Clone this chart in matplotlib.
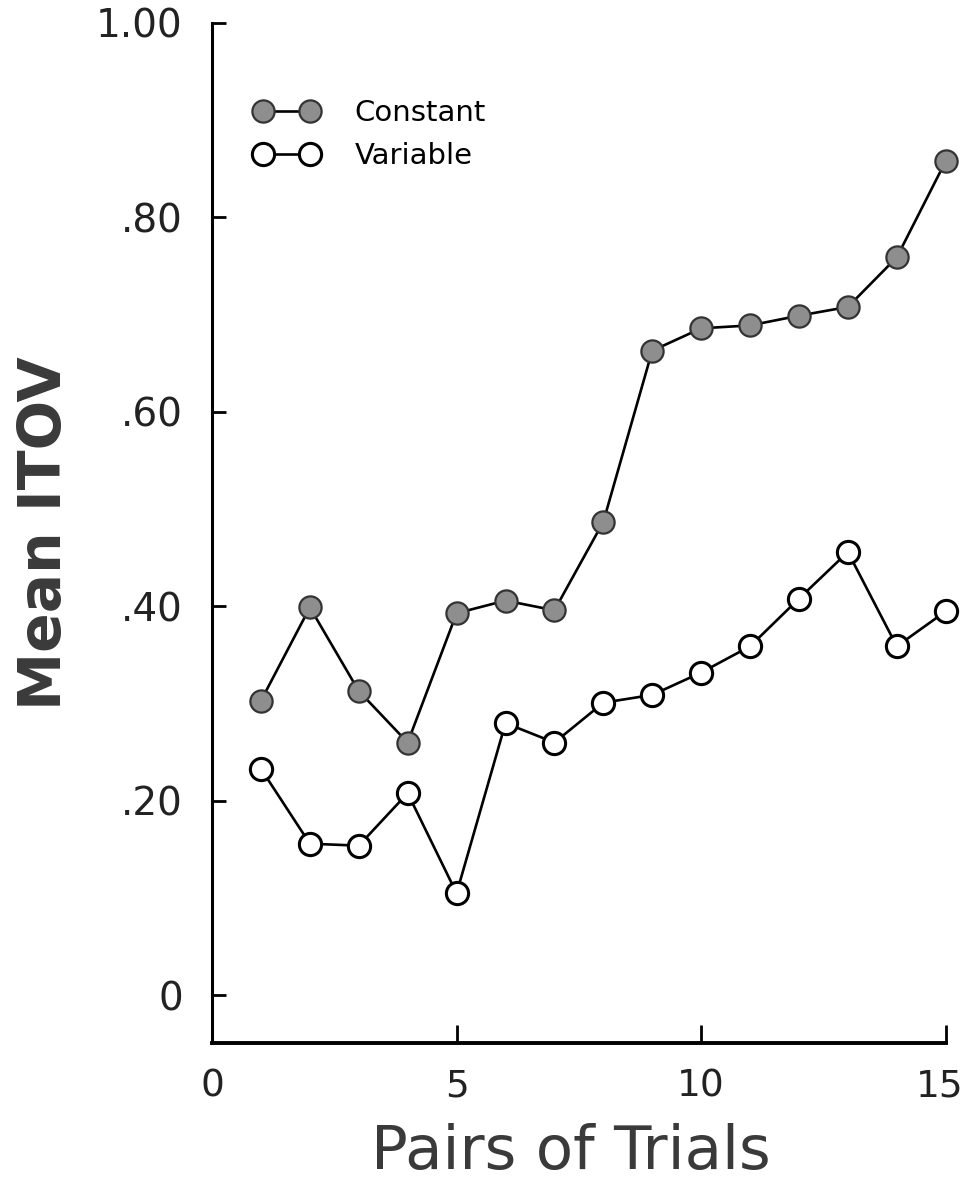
import matplotlib
matplotlib.use("Agg")
from matplotlib import pyplot as plt
from matplotlib import transforms

# data
pairs = list(range(1, 16))
constant = [0.303, 0.399, 0.313, 0.260, 0.393, 0.406, 0.396, 0.487,
            0.663, 0.686, 0.689, 0.699, 0.708, 0.759, 0.858]
variable = [0.233, 0.156, 0.154, 0.208, 0.105, 0.280, 0.260, 0.301,
            0.309, 0.332, 0.359, 0.408, 0.456, 0.359, 0.395]
xticks = [0, 5, 10, 15]
yticks = [0, 0.2, 0.4, 0.6, 0.8, 1.0]
ytick_labels = ["0", ".20", ".40", ".60", ".80", "1.00"]

plt.rcParams['font.family'] = ['DejaVu Sans']

fig = plt.figure(figsize=(9.66, 11.85), dpi=100)
ax = fig.add_axes([0.2195, 0.1198, 0.7595, 0.8608])

ax.plot(pairs, constant, "-o", color="black", lw=1.9, ms=16,
        mfc="#8e8e8e", mec="#333333", mew=1.6, clip_on=False, label="Constant", zorder=3)
ax.plot(pairs, variable, "-o", color="black", lw=1.9, ms=16,
        mfc="white", mec="black", mew=2.2, clip_on=False, label="Variable", zorder=3)

ax.set_xlim(0, 15)
ax.set_ylim(-0.049, 1.0)
ax.set_xticks(xticks)
ax.set_yticks(yticks)
ax.set_yticklabels(ytick_labels)

for s in ["top", "right"]:
    ax.spines[s].set_visible(False)
ax.spines["left"].set_linewidth(2.2)
ax.spines["bottom"].set_linewidth(2.8)

ax.tick_params(axis="y", direction="in", length=10, width=2, pad=21, labelsize=28,
               labelcolor="#222222")
ax.tick_params(axis="x", direction="in", length=13, width=2, pad=18, labelsize=27,
               labelcolor="#222222")

# nudge the last x label so it stays inside the figure
shift = transforms.ScaledTranslation(-6 / 100, 0, fig.dpi_scale_trans)
last = ax.xaxis.get_major_ticks()[-1].label1
last.set_transform(last.get_transform() + shift)

ax.set_ylabel("Mean ITOV", fontsize=42, fontweight="bold", color="#3a3a3a")
ax.yaxis.set_label_coords(-0.19, 0.5)
ax.set_xlabel("Pairs of Trials", fontsize=44, color="#3a3a3a")
ax.xaxis.set_label_coords(0.489, -0.078)

leg = ax.legend(loc="upper left", bbox_to_anchor=(0.057, 0.925), frameon=False,
                numpoints=2, handlelength=2.21, handletextpad=1.24,
                fontsize=21, labelspacing=0.5, borderaxespad=0, borderpad=0)

fig.savefig("out.png", dpi=100, facecolor="white")
